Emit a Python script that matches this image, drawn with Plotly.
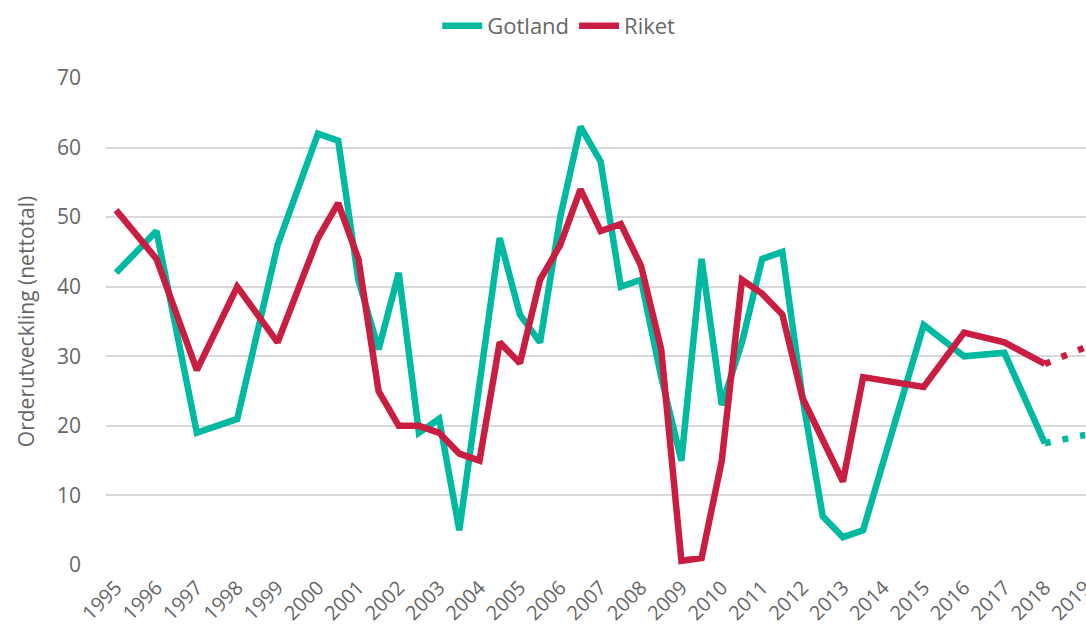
import plotly.graph_objects as go

# Half-year periods (numeric year, .5 = second half)
gotland_x = [1995, 1996, 1997, 1998, 1999, 2000, 2000.5, 2001, 2001.5, 2002, 2002.5,
             2003, 2003.5, 2004.5, 2005, 2005.5, 2006, 2006.5, 2007, 2007.5, 2008,
             2008.5, 2009, 2009.5, 2010, 2010.5, 2011, 2011.5, 2012, 2012.5, 2013,
             2013.5, 2015, 2016, 2017, 2018]
gotland_y = [42, 48, 19, 21, 46, 62, 61, 41, 31, 42, 19,
             21, 5, 47, 36, 32, 50, 63, 58, 40, 41,
             27, 15, 44, 23, 32, 44, 45, 24, 7, 4,
             5, 34.5, 30, 30.5, 17.5]

riket_x = [1995, 1996, 1997, 1998, 1999, 2000, 2000.5, 2001, 2001.5, 2002, 2002.5,
           2003, 2003.5, 2004, 2004.5, 2005, 2005.5, 2006, 2006.5, 2007, 2007.5,
           2008, 2008.5, 2009, 2009.5, 2010, 2010.5, 2011, 2011.5, 2012, 2013,
           2013.5, 2015, 2016, 2017, 2018]
riket_y = [51, 44, 28, 40, 32, 47, 52, 44, 25, 20, 20,
           19, 16, 15, 32, 29, 41, 46, 54, 48, 49,
           43, 31, 0.6, 1, 15, 41, 39, 36, 24, 12,
           27, 25.6, 33.4, 32, 28.9]

# Forecast (dotted) segments
forecast_x = [2018, 2019]
gotland_forecast = [17.5, 18.7]
riket_forecast = [28.9, 31.3]

year_ticks = list(range(1995, 2020))

TEAL = "#00B9A1"
RED = "#C91E41"
GRAY = "#666666"
FONT = "Open Sans"

fig = go.Figure()
fig.add_trace(go.Scatter(x=gotland_x, y=gotland_y, mode="lines", name="Gotland",
                         line=dict(color=TEAL, width=6.5)))
fig.add_trace(go.Scatter(x=riket_x, y=riket_y, mode="lines", name="Riket",
                         line=dict(color=RED, width=6.5)))
fig.add_trace(go.Scatter(x=forecast_x, y=gotland_forecast, mode="lines", showlegend=False,
                         line=dict(color=TEAL, width=6.5, dash="6px,12px")))
fig.add_trace(go.Scatter(x=forecast_x, y=riket_forecast, mode="lines", showlegend=False,
                         line=dict(color=RED, width=6.5, dash="6px,12px")))

fig.update_layout(
    width=1086, height=635,
    margin=dict(l=106, r=0, t=78, b=70, autoexpand=False),
    paper_bgcolor="white", plot_bgcolor="white",
    font=dict(family=FONT, color=GRAY, size=21),
    legend=dict(orientation="h", x=0.462, xanchor="center",
                yref="container", y=1 - 26 / 635, yanchor="middle",
                font=dict(size=22, color=GRAY), itemwidth=40, tracegroupgap=0),
    showlegend=True,
)
fig.update_xaxes(range=[1994.75, 2019.02], tickmode="array", tickvals=year_ticks,
                 ticktext=[str(y) for y in year_ticks], tickangle=-45,
                 showgrid=False, zeroline=False, showline=False, ticks="",
                 automargin=False, ticklabeloverflow="allow",
                 tickfont=dict(size=20, color=GRAY, family=FONT), ticklabelstandoff=6)
fig.update_yaxes(range=[0, 70], dtick=10, showgrid=True, gridcolor="#D9D9D9", gridwidth=1.5,
                 zeroline=False, showline=False, ticks="", automargin=False,
                 tickfont=dict(size=21, color=GRAY, family=FONT), ticklabelstandoff=24,
                 title=dict(text="Orderutveckling (nettotal)", standoff=16,
                            font=dict(size=21, color=GRAY, family=FONT)))

fig.write_html("out.html", config={"displayModeBar": False},
               post_script="document.body.style.margin='0';document.body.style.overflow='hidden';")
